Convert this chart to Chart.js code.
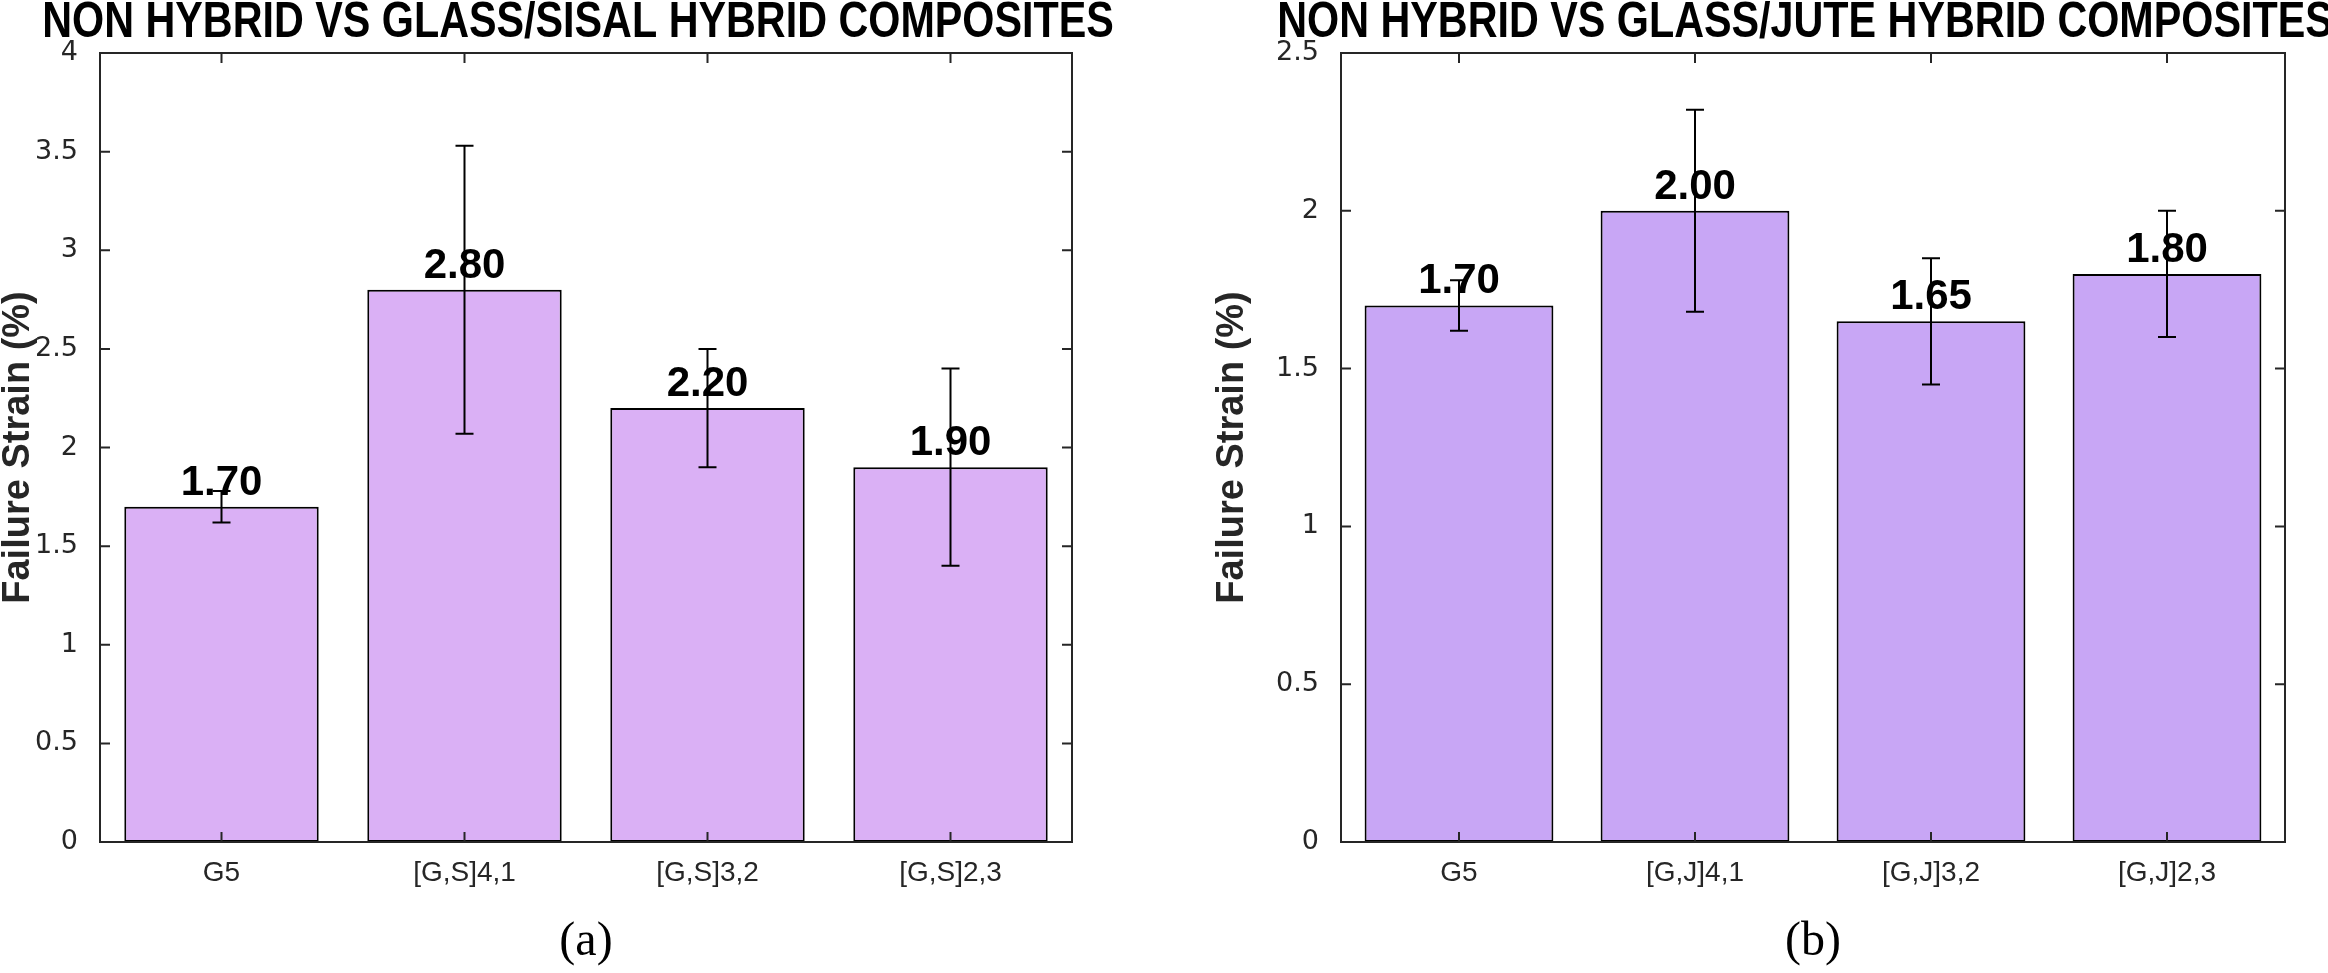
<!DOCTYPE html>
<html>
<head>
<meta charset="utf-8">
<script src="https://cdn.jsdelivr.net/npm/chart.js@4.4.0/dist/chart.umd.min.js"></script>
<style>
  html, body { margin: 0; padding: 0; background: #fff; }
  #wrap { position: relative; width: 2328px; height: 973px; overflow: hidden; }
  .pane { position: absolute; top: 0; width: 1164px; height: 973px; }
</style>
</head>
<body>
<div id="wrap">
  <div class="pane" style="left:0"><canvas id="chartA"></canvas></div>
  <div class="pane" style="left:1164px"><canvas id="chartB"></canvas></div>
</div>
<script>
// data
const sisalLabels = ['G5', '[G,S]4,1', '[G,S]3,2', '[G,S]2,3'];
const sisalStrain = [1.70, 2.80, 2.20, 1.90];
const sisalErrLow = [0.08, 0.73, 0.30, 0.50];
const sisalErrHigh = [0.08, 0.73, 0.30, 0.50];
const sisalYTicks = [0, 0.5, 1, 1.5, 2, 2.5, 3, 3.5, 4];

const juteLabels = ['G5', '[G,J]4,1', '[G,J]3,2', '[G,J]2,3'];
const juteStrain = [1.70, 2.00, 1.65, 1.80];
const juteErrLow = [0.08, 0.32, 0.20, 0.20];
const juteErrHigh = [0.08, 0.32, 0.20, 0.20];
const juteYTicks = [0, 0.5, 1, 1.5, 2, 2.5];

const axisColor = '#262626';

// value labels, error bars, boxed axes with inward ticks, panel title
const decor = {
  id: 'decor',
  afterDatasetsDraw(chart, args, opts) {
    const { ctx, chartArea: a, scales: { x, y } } = chart;
    const ds = chart.data.datasets[0];
    const meta = chart.getDatasetMeta(0);
    ctx.save();

    ctx.font = 'bold 42px "Liberation Sans", Arial, sans-serif';
    ctx.fillStyle = '#000';
    ctx.textAlign = 'center';
    ctx.textBaseline = 'alphabetic';
    meta.data.forEach((bar, i) => {
      ctx.fillText(ds.data[i].toFixed(2), bar.x, bar.y - 12);
    });

    ctx.strokeStyle = '#000';
    ctx.lineWidth = 2;
    meta.data.forEach((bar, i) => {
      const v = ds.data[i];
      const yHi = y.getPixelForValue(v + opts.errHigh[i]);
      const yLo = y.getPixelForValue(v - opts.errLow[i]);
      ctx.beginPath();
      ctx.moveTo(bar.x, yHi); ctx.lineTo(bar.x, yLo);
      ctx.moveTo(bar.x - 9, yHi); ctx.lineTo(bar.x + 9, yHi);
      ctx.moveTo(bar.x - 9, yLo); ctx.lineTo(bar.x + 9, yLo);
      ctx.stroke();
    });

    ctx.strokeStyle = axisColor;
    ctx.lineWidth = 2;
    ctx.strokeRect(a.left, a.top, a.right - a.left, a.bottom - a.top);
    ctx.beginPath();
    y.ticks.forEach(t => {
      const py = y.getPixelForValue(t.value);
      ctx.moveTo(a.left, py); ctx.lineTo(a.left + 10, py);
      ctx.moveTo(a.right, py); ctx.lineTo(a.right - 10, py);
    });
    x.ticks.forEach((t, i) => {
      const px = x.getPixelForTick(i);
      ctx.moveTo(px, a.bottom); ctx.lineTo(px, a.bottom - 10);
      ctx.moveTo(px, a.top); ctx.lineTo(px, a.top + 10);
    });
    ctx.stroke();

    // condensed bold title (no narrow font installed, so squeeze Liberation Sans)
    ctx.font = 'bold 50px "Liberation Sans", Arial, sans-serif';
    ctx.fillStyle = '#000';
    ctx.textAlign = 'center';
    ctx.translate((a.left + a.right) / 2 - 8, 37);
    ctx.scale(0.826, 1);
    ctx.fillText(opts.title, 0, 0);
    ctx.restore();
  }
};

function makeChart(id, labels, values, errLow, errHigh, yTicks, color, title, caption, padLeft, yWidth, padRight) {
  return new Chart(document.getElementById(id), {
    type: 'bar',
    data: {
      labels: labels,
      datasets: [{
        data: values,
        backgroundColor: color,
        borderColor: '#000',
        borderWidth: 2,
        borderSkipped: false,
        categoryPercentage: 1,
        barPercentage: 0.8
      }]
    },
    options: {
      responsive: true,
      maintainAspectRatio: false,
      devicePixelRatio: 1,
      animation: false,
      layout: { padding: { top: 53, right: padRight, left: padLeft, bottom: 0 } },
      scales: {
        x: {
          grid: { display: false },
          border: { display: false },
          ticks: {
            color: axisColor,
            padding: 6,
            font: { family: '"Liberation Sans", Arial, sans-serif', size: 28 }
          },
          title: {
            display: true,
            text: caption,
            color: '#000',
            padding: { top: 0, bottom: 2 },
            font: { family: '"Liberation Serif", "Times New Roman", serif', size: 48 }
          },
          afterFit: s => { s.height = 131; }
        },
        y: {
          min: yTicks[0],
          max: yTicks[yTicks.length - 1],
          grid: { display: false },
          border: { display: false },
          afterBuildTicks: s => { s.ticks = yTicks.map(v => ({ value: v })); },
          ticks: {
            color: axisColor,
            padding: 14,
            font: { family: '"DejaVu Sans", sans-serif', size: 27 },
            callback: v => String(v)
          },
          title: {
            display: true,
            text: 'Failure Strain (%)',
            color: axisColor,
            padding: 0,
            font: { family: '"Liberation Sans", Arial, sans-serif', size: 38, weight: 'bold', lineHeight: 0.95 }
          },
          afterFit: s => { s.width = yWidth; }
        }
      },
      plugins: {
        legend: { display: false },
        tooltip: { enabled: false },
        decor: { errLow: errLow, errHigh: errHigh, title: title }
      }
    },
    plugins: [decor]
  });
}

makeChart('chartA', sisalLabels, sisalStrain, sisalErrLow, sisalErrHigh, sisalYTicks,
  'rgb(218,176,245)', 'NON HYBRID VS GLASS/SISAL HYBRID COMPOSITES', '(a)', 0, 100, 92);
makeChart('chartB', juteLabels, juteStrain, juteErrLow, juteErrHigh, juteYTicks,
  'rgb(200,166,245)', 'NON HYBRID VS GLASS/JUTE HYBRID COMPOSITES', '(b)', 50, 127, 43);
</script>
</body>
</html>
